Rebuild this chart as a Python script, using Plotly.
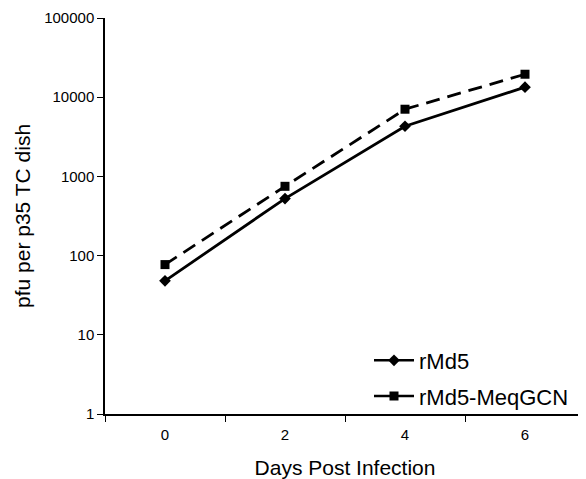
import plotly.graph_objects as go

days = ["0", "2", "4", "6"]
rmd5 = [48, 525, 4300, 13400]
rmd5_meqgcn = [77, 750, 7050, 19500]
y_ticks = [1, 10, 100, 1000, 10000, 100000]
y_tick_labels = ["1", "10", "100", "1000", "10000", "100000"]

fig = go.Figure()
fig.add_trace(go.Scatter(
    x=days, y=rmd5, name="rMd5", mode="lines+markers",
    line=dict(color="black", width=2.8),
    marker=dict(symbol="diamond", size=9, color="black"),
    legendgroup="a", showlegend=False,
))
fig.add_trace(go.Scatter(
    x=days, y=rmd5_meqgcn, name="rMd5-MeqGCN", mode="lines+markers",
    line=dict(color="black", width=2.8, dash="14px,8px"),
    marker=dict(symbol="square", size=9, color="black"),
    legendgroup="b", showlegend=False,
))
# legend entries (solid line samples as in the original legend)
fig.add_trace(go.Scatter(
    x=[None], y=[None], name="rMd5", mode="lines+markers",
    line=dict(color="black", width=2.5),
    marker=dict(symbol="diamond", size=9, color="black"),
    legendgroup="a",
))
fig.add_trace(go.Scatter(
    x=[None], y=[None], name="rMd5-MeqGCN", mode="lines+markers",
    line=dict(color="black", width=2.5),
    marker=dict(symbol="square", size=9, color="black"),
    legendgroup="b",
))

fig.update_layout(
    width=578, height=471,
    margin=dict(l=97, r=1, t=10, b=65, autoexpand=False),
    paper_bgcolor="white", plot_bgcolor="white",
    font=dict(family="Liberation Sans, Arial, sans-serif", color="black", size=15),
    showlegend=True,
    legend=dict(
        x=0.55, y=0.188, xanchor="left", yanchor="top",
        bgcolor="rgba(0,0,0,0)", font=dict(size=22),
        itemwidth=40, traceorder="grouped", tracegroupgap=4,
    ),
    xaxis=dict(
        type="category", range=[-0.5, 3.5], automargin=False,
        showline=True, linecolor="black", linewidth=1.5,
        ticks="outside", tickson="boundaries", ticklen=6, tickcolor="black",
        showgrid=False, zeroline=False, ticklabelstandoff=6,
        title=dict(text="Days Post Infection", font=dict(size=21), standoff=25),
        tickfont=dict(size=15),
    ),
    yaxis=dict(
        type="log", range=[0, 5], automargin=False,
        tickvals=y_ticks, ticktext=y_tick_labels,
        showline=True, linecolor="black", linewidth=1.5,
        ticks="outside", ticklen=6, tickcolor="black",
        showgrid=False, zeroline=False,
        tickfont=dict(size=15),
    ),
    annotations=[dict(
        text="pfu per p35 TC dish", textangle=-90,
        xref="paper", yref="paper", x=-0.173, y=0.5,
        xanchor="center", yanchor="middle", showarrow=False,
        font=dict(size=21),
    )],
)

fig.write_html("out.html")
